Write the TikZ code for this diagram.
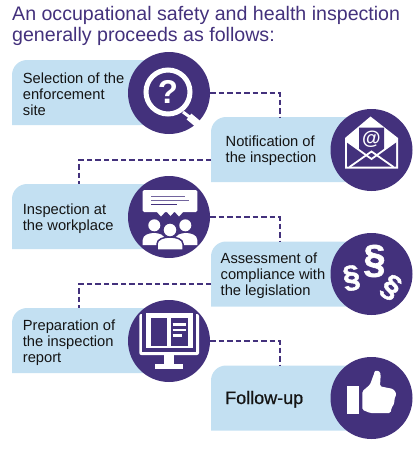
\documentclass[tikz,border=0pt]{standalone}
\usepackage{fontspec}
\setmainfont{Liberation Sans}
\newfontfamily\medfont[FakeBold=0.7]{Liberation Sans}
\newfontfamily\fatfont[FakeBold=1.6]{Liberation Sans Bold}
\definecolor{inkpurple}{HTML}{43317C}
\definecolor{paleblue}{HTML}{C3E0F2}
\definecolor{bodyink}{HTML}{141414}
\tikzset{
  boxgeom/.style={rectangle,inner sep=0pt,outer sep=0pt,minimum width=#1,minimum height=65pt},
  disc/.style={circle,fill=inkpurple,inner sep=0pt,outer sep=0pt,minimum size=82pt},
  label/.style={font=\fontsize{14.7}{16}\selectfont,text=bodyink,align=left,inner sep=0pt,anchor=base west},
  link/.style={inkpurple,line width=1.5pt,dash pattern=on 5.5pt off 3pt},
}
\newcommand{\flowbox}[4]{%
  \node[boxgeom=#4] (#1) at (#2,#3) {};
  \fill[paleblue] (#1.south west) [rounded corners=15pt] -- (#1.north west) [sharp corners] -- (#1.north east) -- (#1.south east) -- cycle;
}
\begin{document}
\begin{tikzpicture}[x=1pt,y=-1pt]
\useasboundingbox (0,0) rectangle (420,450);
\node[font=\fontsize{19.6}{21}\selectfont,text=inkpurple,align=left,inner sep=0pt,anchor=north west] (title) at (12,6) {An occupational safety and health inspection\\generally proceeds as follows:};

\flowbox{b1}{79}{92.5}{134pt}
\flowbox{b2}{280}{149.5}{138pt}
\flowbox{b3}{79}{216.5}{134pt}
\flowbox{b4}{280}{274}{138pt}
\flowbox{b5}{79}{340.5}{134pt}
\flowbox{b6}{280}{398}{138pt}

\node[disc] (c1) at (169,93) {};
\node[disc] (c2) at (371.5,150) {};
\node[disc] (c3) at (169,217) {};
\node[disc] (c4) at (371.5,274) {};
\node[disc] (c5) at (169,341) {};
\node[disc] (c6) at (371.5,398) {};

\draw[link] (c1.east) -| (b2.north);
\draw[link] ([yshift=-10.5pt]b2.west) -| (b3.north);
\draw[link] (c3.east) -| (b4.north);
\draw[link] ([yshift=-10pt]b4.west) -| (b5.north);
\draw[link] (c5.east) -| (b6.north);

\node[label] (t1) at (22.7,115.3) {Selection of the\\enforcement\\site};
\node[label] (t2) at (225.5,162.7) {Notification of\\the inspection};
\node[label] (t3) at (22.7,230) {Inspection at\\the workplace};
\node[label] (t4) at (220.5,295) {Assessment of\\compliance with\\the legislation};
\node[label] (t5) at (22.7,362) {Preparation of\\the inspection\\report};
\node[label,font=\fontsize{18}{20}\selectfont\medfont] (t6) at (225,404) {Follow-up};

% magnifier
\begin{scope}[shift={(c1.center)}]
  \draw[white,line width=5pt] (-1,-1) circle (22pt);
  \draw[white,line width=3pt] (14,19) -- (22,25);
  \draw[white,line width=7.5pt] (20,23.5) -- (29,31);
  \node[text=white,font=\fontsize{33}{33}\selectfont\bfseries,inner sep=0pt] (qm) at (-1,-1) {?};
\end{scope}

% envelope
\begin{scope}[shift={(c2.center)}]
  \fill[white] (-1,-33.5) -- (26.5,-12) -- (26.5,18.5) -- (-26.5,18.5) -- (-26.5,-12) -- cycle;
  \fill[inkpurple] (-24.5,-8) -- (-12.5,0) -- (-12.5,-22.5) -- (12.5,-22.5) -- (12.5,0) -- (24.5,-8) -- (24.5,16.5) -- (-24.5,16.5) -- cycle;
  \draw[white,line width=1.8pt] (-25,-9) -- (0,9) -- (25,-9);
  \draw[white,line width=1.8pt] (-22,17) -- (0,1.5) -- (22,17);
  \node[text=white,font=\fontsize{19}{19}\selectfont\bfseries,inner sep=0pt] (at) at (0,-10.5) {@};
\end{scope}

% meeting
\begin{scope}[shift={(c3.center)}]
  \fill[white,rounded corners=1.5pt] (-26.3,-27) rectangle (28.3,-5);
  \fill[white] (-13,-6) -- (-3,-6) -- (-8,-0.5) -- cycle;
  \fill[white] (-3,-6) -- (6,-6) -- (1.5,-1) -- cycle;
  \fill[white] (5,-6) -- (15,-6) -- (10,-0.5) -- cycle;
  \draw[inkpurple!75,line width=1pt] (-18,-20.3) -- (16,-20.3);
  \draw[inkpurple!75,line width=1pt] (-18,-16.3) -- (20,-16.3);
  \draw[inkpurple,line width=1pt] (-18,-12.7) -- (8,-12.7);
  \fill[white] (-14.7,8.3) circle (6pt);
  \fill[white] (16.3,8.3) circle (6pt);
  \fill[white] (-26.3,28) -- (-26.3,23) .. controls (-26.3,18) and (-20,16) .. (-15,16) .. controls (-10,16) and (-4,18) .. (-4,23) -- (-4,28) -- cycle;
  \fill[white] (28.3,28) -- (28.3,23) .. controls (28.3,18) and (22,16) .. (17,16) .. controls (12,16) and (6,18) .. (6,23) -- (6,28) -- cycle;
  \filldraw[fill=white,draw=inkpurple,line width=1.5pt] (-12,33) -- (-12,27) .. controls (-12,22) and (-5,20) .. (1,20) .. controls (7,20) and (14,22) .. (14,27) -- (14,33) -- cycle;
  \filldraw[fill=white,draw=inkpurple,line width=1.2pt] (1,13) circle (7pt);
\end{scope}

% paragraphs
\begin{scope}[shift={(c4.center)}]
  \node[text=white,font=\fontsize{40}{40}\selectfont\fatfont,inner sep=0pt] (s1) at (3,-13) {§};
  \node[text=white,font=\fontsize{31}{31}\selectfont\fatfont,inner sep=0pt,rotate=8] (s2) at (-20,4) {§};
  \node[text=white,font=\fontsize{31}{31}\selectfont\fatfont,inner sep=0pt,rotate=-30] (s3) at (19.5,13.5) {§};
\end{scope}

% monitor
\begin{scope}[shift={(c5.center)}]
  \fill[white,rounded corners=2pt] (-29.7,-27) rectangle (30,14);
  \fill[inkpurple] (-26.7,-28) rectangle (27,10.5);
  \fill[white] (-23,-28) rectangle (24.3,6.7);
  \fill[inkpurple] (-18.3,-23) rectangle (-1.7,5);
  \fill[inkpurple] (1.7,-23) rectangle (19.3,5);
  \draw[white,line width=2.5pt] (3.7,-16.7) -- (17,-16.7);
  \draw[white,line width=2.5pt] (3.7,-11) -- (17,-11);
  \draw[white,line width=2.5pt] (3.7,-5.3) -- (12.7,-5.3);
  \fill[white] (-5,14) rectangle (5,23);
  \fill[white] (-14,23) rectangle (13.7,28);
\end{scope}

% thumb
\begin{scope}[shift={(c6.center)}]
  \fill[white] (-24.8,-11.7) rectangle (-12.2,16);
  \fill[white,rounded corners=1.5pt] (-9.2,-6.7) -- (-1.5,-13.3) -- (2.8,-25) .. controls (3.5,-27.5) and (8,-28) .. (9.2,-23.3) -- (8.5,-11.7) -- (21.8,-9) -- (25,-4.3) -- (22.7,1.7) -- (23,5) -- (20,10) -- (19,15) -- (-1.5,15) -- (-9.2,11.7) -- cycle;
\end{scope}
\end{tikzpicture}
\end{document}
